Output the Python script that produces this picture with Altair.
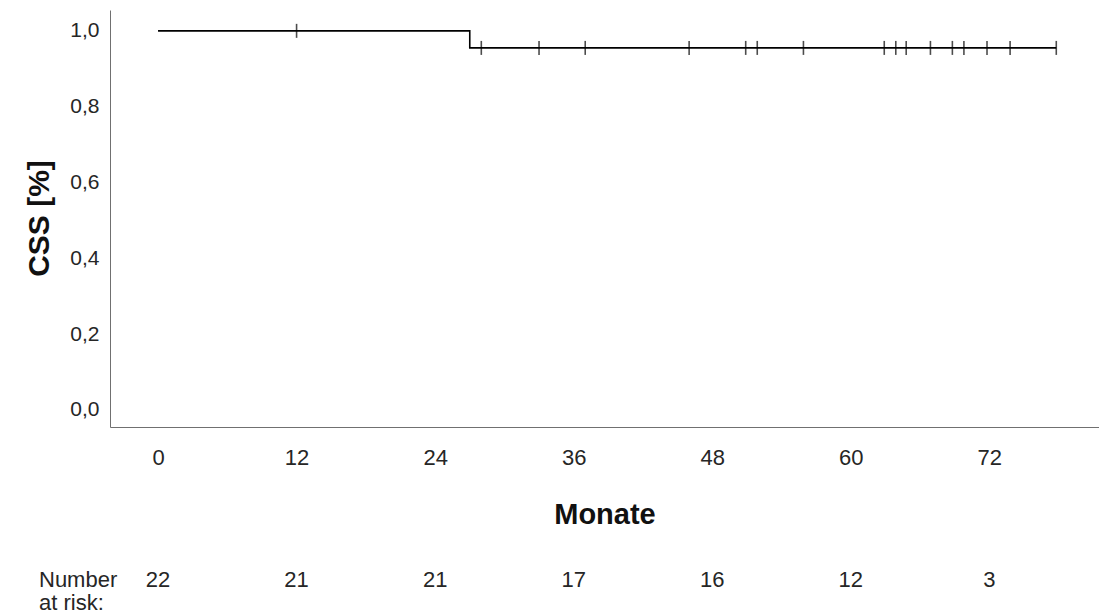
import altair as alt
import pandas as pd

# Kaplan-Meier step curve (time in months, survival proportion)
step_times = [0.0, 27.0, 77.8]
step_surv = [1.0, 0.955, 0.955]

# censored observations (tick marks)
censor_times = [12.0, 28.0, 33.0, 37.0, 46.0, 50.9, 51.9, 55.9, 62.9, 63.9,
                64.8, 66.9, 68.8, 69.8, 71.8, 73.8, 77.8]
censor_surv = [1.0, 0.955, 0.955, 0.955, 0.955, 0.955, 0.955, 0.955, 0.955,
               0.955, 0.955, 0.955, 0.955, 0.955, 0.955, 0.955, 0.955]

# number-at-risk table
risk_months = [0, 12, 24, 36, 48, 60, 72]
risk_counts = ["22", "21", "21", "17", "16", "12", "3"]
risk_caption = ["Number", "at risk:"]

x_ticks = [0, 12, 24, 36, 48, 60, 72]
y_ticks = [0.0, 0.2, 0.4, 0.6, 0.8, 1.0]

FONT = "Liberation Sans"
TXT = "#262626"
FS = 22

step_df = pd.DataFrame({"t": step_times, "s": step_surv})
cens_df = pd.DataFrame({"t": censor_times, "s": censor_surv})
risk_df = pd.DataFrame({"t": risk_months, "n": risk_counts})

x_scale = alt.Scale(domain=[-4.16, 81.5], nice=False, zero=False)
y_scale = alt.Scale(domain=[-0.045, 1.055], nice=False, zero=False)

x_axis = alt.Axis(values=x_ticks, ticks=False, grid=False, domainColor="#707070",
                  labelFont=FONT, labelFontSize=FS, labelColor=TXT, labelPadding=20,
                  title="Monate", titleFont=FONT, titleFontSize=29, titleFontWeight="bold",
                  titleColor="#111111", titleY=96, titleBaseline="alphabetic")
y_axis = alt.Axis(values=y_ticks, ticks=False, grid=False, domainColor="#707070",
                  labelFont=FONT, labelFontSize=21, labelColor=TXT, labelPadding=11,
                  labelExpr="replace(format(datum.value, '.1f'), '.', ',')",
                  title="CSS [%]", titleFont=FONT, titleFontSize=30, titleFontWeight="bold",
                  titleColor="#111111", titleX=-62, titleY=208, titleAngle=-90,
                  titleAlign="center", titleBaseline="alphabetic")

line = alt.Chart(step_df).mark_line(interpolate="step-after", color="black", strokeWidth=1.6).encode(
    x=alt.X("t:Q", scale=x_scale, axis=x_axis),
    y=alt.Y("s:Q", scale=y_scale, axis=y_axis),
)

ticks = alt.Chart(cens_df).mark_tick(orient="vertical", color="black", size=14, thickness=1.6).encode(
    x=alt.X("t:Q", scale=x_scale),
    y=alt.Y("s:Q", scale=y_scale),
)

risk = alt.Chart(risk_df).mark_text(font=FONT, fontSize=FS, color=TXT, baseline="alphabetic").encode(
    x=alt.X("t:Q", scale=x_scale),
    y=alt.value(577),
    text="n:N",
)

cap1 = alt.Chart(pd.DataFrame({"line": [risk_caption[0]]})).mark_text(
    font=FONT, fontSize=FS, color=TXT, align="left", baseline="alphabetic").encode(
    x=alt.value(-71), y=alt.value(577), text="line:N")
cap2 = alt.Chart(pd.DataFrame({"line": [risk_caption[1]]})).mark_text(
    font=FONT, fontSize=FS, color=TXT, align="left", baseline="alphabetic").encode(
    x=alt.value(-71), y=alt.value(600), text="line:N")

chart = alt.layer(line, ticks, risk, cap1, cap2).properties(
    width=989, height=417,
    padding={"left": 110, "top": 10, "right": 0, "bottom": 189},
    autosize=alt.AutoSizeParams(type="none"),
    background="white",
).configure_view(stroke=None)

chart.save("out.html", embed_options={"renderer": "svg", "actions": False})
